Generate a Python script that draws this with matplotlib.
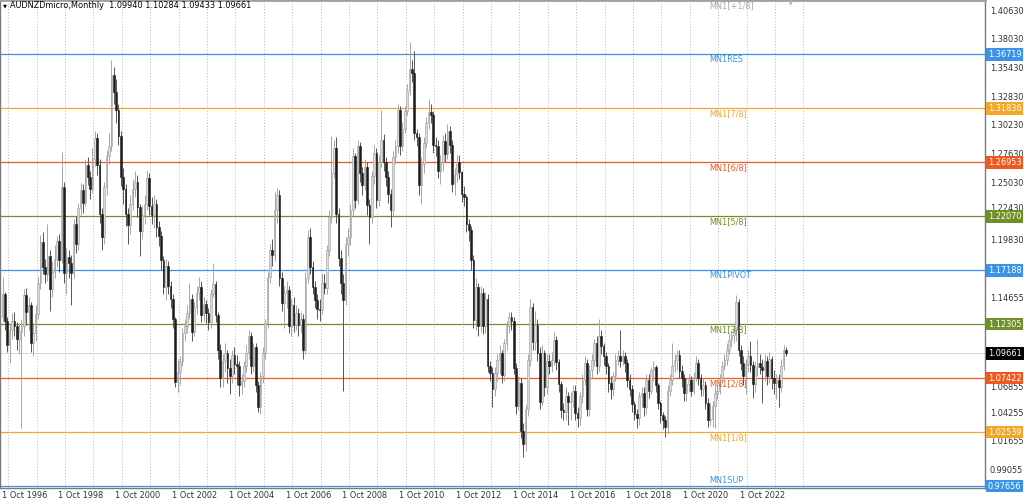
import matplotlib
matplotlib.use("Agg")
import matplotlib.pyplot as plt
from matplotlib.transforms import blended_transform_factory
import numpy as np

# ---------------- data (monthly candles, Oct 1996 .. May 2024) ----------------
opens = [
    1.130, 1.150, 1.126, 1.104, 1.118, 1.126, 1.121, 1.110, 1.116, 1.121, 1.149, 1.134,
    1.140, 1.106, 1.115, 1.132, 1.160, 1.197, 1.175, 1.168, 1.185, 1.155, 1.170, 1.182,
    1.198, 1.181, 1.247, 1.169, 1.184, 1.178, 1.169, 1.214, 1.196, 1.228, 1.244, 1.233,
    1.267, 1.256, 1.245, 1.272, 1.291, 1.267, 1.223, 1.202, 1.247, 1.275, 1.284, 1.348,
    1.333, 1.317, 1.293, 1.256, 1.245, 1.223, 1.213, 1.232, 1.245, 1.252, 1.229, 1.207,
    1.222, 1.232, 1.255, 1.230, 1.222, 1.232, 1.211, 1.203, 1.181, 1.157, 1.176, 1.158,
    1.146, 1.128, 1.071, 1.080, 1.090, 1.115, 1.121, 1.133, 1.146, 1.116, 1.139, 1.151,
    1.157, 1.131, 1.141, 1.133, 1.125, 1.150, 1.159, 1.131, 1.100, 1.074, 1.090, 1.097,
    1.083, 1.076, 1.095, 1.087, 1.085, 1.068, 1.072, 1.085, 1.097, 1.112, 1.085, 1.102,
    1.068, 1.048, 1.076, 1.097, 1.124, 1.166, 1.190, 1.186, 1.226, 1.240, 1.165, 1.142,
    1.151, 1.154, 1.121, 1.140, 1.122, 1.133, 1.122, 1.128, 1.100, 1.165, 1.202, 1.175,
    1.157, 1.145, 1.137, 1.136, 1.160, 1.156, 1.190, 1.220, 1.260, 1.282, 1.223, 1.183,
    1.160, 1.145, 1.196, 1.202, 1.226, 1.275, 1.235, 1.284, 1.260, 1.249, 1.265, 1.231,
    1.220, 1.257, 1.278, 1.235, 1.270, 1.290, 1.270, 1.256, 1.241, 1.226, 1.274, 1.284,
    1.317, 1.284, 1.300, 1.316, 1.335, 1.354, 1.350, 1.296, 1.292, 1.249, 1.268, 1.287,
    1.305, 1.315, 1.312, 1.285, 1.284, 1.262, 1.270, 1.289, 1.277, 1.298, 1.285, 1.250,
    1.259, 1.270, 1.261, 1.241, 1.238, 1.214, 1.208, 1.181, 1.127, 1.157, 1.121, 1.151,
    1.121, 1.146, 1.085, 1.079, 1.064, 1.079, 1.091, 1.097, 1.077, 1.106, 1.121, 1.130,
    1.126, 1.083, 1.049, 1.070, 1.026, 1.015, 1.046, 1.091, 1.139, 1.107, 1.122, 1.097,
    1.053, 1.097, 1.066, 1.090, 1.085, 1.091, 1.109, 1.089, 1.069, 1.045, 1.044, 1.058,
    1.053, 1.054, 1.063, 1.043, 1.038, 1.058, 1.073, 1.088, 1.046, 1.082, 1.091, 1.106,
    1.085, 1.112, 1.103, 1.094, 1.085, 1.070, 1.064, 1.076, 1.091, 1.094, 1.090, 1.094,
    1.088, 1.073, 1.064, 1.051, 1.042, 1.038, 1.058, 1.061, 1.048, 1.073, 1.063, 1.082,
    1.084, 1.068, 1.052, 1.041, 1.036, 1.030, 1.063, 1.073, 1.085, 1.091, 1.095, 1.081,
    1.074, 1.061, 1.069, 1.073, 1.063, 1.075, 1.088, 1.074, 1.064, 1.068, 1.052, 1.036,
    1.037, 1.049, 1.061, 1.063, 1.074, 1.085, 1.091, 1.100, 1.109, 1.113, 1.118, 1.143,
    1.100, 1.088, 1.076, 1.087, 1.094, 1.086, 1.069, 1.084, 1.088, 1.084, 1.082, 1.090,
    1.076, 1.092, 1.074, 1.070, 1.073, 1.066, 1.085, 1.09940,
]
highs = [
    1.166, 1.152, 1.130, 1.122, 1.133, 1.134, 1.125, 1.124, 1.128, 1.155, 1.156, 1.148,
    1.143, 1.124, 1.140, 1.166, 1.204, 1.206, 1.182, 1.214, 1.190, 1.180, 1.195, 1.203,
    1.205, 1.279, 1.252, 1.192, 1.190, 1.186, 1.218, 1.221, 1.233, 1.251, 1.250, 1.272,
    1.274, 1.262, 1.282, 1.298, 1.296, 1.272, 1.228, 1.252, 1.281, 1.296, 1.362, 1.356,
    1.345, 1.322, 1.298, 1.264, 1.250, 1.228, 1.240, 1.254, 1.262, 1.258, 1.232, 1.230,
    1.240, 1.262, 1.260, 1.238, 1.240, 1.236, 1.216, 1.207, 1.185, 1.182, 1.180, 1.162,
    1.150, 1.130, 1.092, 1.094, 1.120, 1.128, 1.140, 1.160, 1.150, 1.143, 1.158, 1.166,
    1.162, 1.148, 1.145, 1.138, 1.155, 1.178, 1.162, 1.134, 1.105, 1.096, 1.106, 1.100,
    1.092, 1.100, 1.102, 1.095, 1.090, 1.078, 1.090, 1.104, 1.118, 1.116, 1.106, 1.106,
    1.072, 1.080, 1.102, 1.128, 1.170, 1.196, 1.200, 1.243, 1.246, 1.244, 1.170, 1.158,
    1.162, 1.158, 1.146, 1.148, 1.140, 1.138, 1.134, 1.132, 1.170, 1.208, 1.210, 1.180,
    1.162, 1.150, 1.146, 1.169, 1.168, 1.195, 1.226, 1.293, 1.290, 1.292, 1.228, 1.190,
    1.168, 1.202, 1.210, 1.232, 1.282, 1.278, 1.290, 1.288, 1.265, 1.272, 1.270, 1.236,
    1.262, 1.285, 1.282, 1.276, 1.317, 1.295, 1.274, 1.262, 1.245, 1.280, 1.290, 1.322,
    1.320, 1.306, 1.320, 1.340, 1.378, 1.362, 1.370, 1.300, 1.296, 1.274, 1.292, 1.310,
    1.327, 1.322, 1.316, 1.292, 1.290, 1.276, 1.294, 1.296, 1.304, 1.302, 1.290, 1.264,
    1.276, 1.276, 1.262, 1.248, 1.240, 1.218, 1.212, 1.186, 1.165, 1.160, 1.158, 1.156,
    1.152, 1.150, 1.090, 1.084, 1.084, 1.096, 1.104, 1.100, 1.110, 1.126, 1.134, 1.134,
    1.130, 1.088, 1.076, 1.074, 1.034, 1.050, 1.096, 1.146, 1.142, 1.135, 1.128, 1.102,
    1.104, 1.100, 1.096, 1.096, 1.098, 1.116, 1.112, 1.092, 1.072, 1.052, 1.066, 1.062,
    1.062, 1.068, 1.068, 1.048, 1.062, 1.078, 1.094, 1.092, 1.086, 1.096, 1.110, 1.112,
    1.128, 1.118, 1.106, 1.098, 1.088, 1.076, 1.080, 1.096, 1.100, 1.118, 1.100, 1.098,
    1.092, 1.078, 1.068, 1.054, 1.046, 1.062, 1.066, 1.066, 1.078, 1.078, 1.084, 1.090,
    1.086, 1.070, 1.054, 1.044, 1.040, 1.068, 1.078, 1.106, 1.096, 1.100, 1.100, 1.086,
    1.078, 1.074, 1.078, 1.076, 1.080, 1.094, 1.092, 1.078, 1.074, 1.072, 1.056, 1.052,
    1.054, 1.066, 1.068, 1.078, 1.090, 1.096, 1.106, 1.114, 1.118, 1.124, 1.149, 1.146,
    1.104, 1.094, 1.092, 1.100, 1.108, 1.090, 1.090, 1.110, 1.096, 1.092, 1.096, 1.094,
    1.098, 1.094, 1.082, 1.078, 1.078, 1.092, 1.104, 1.10284,
]
lows = [
    1.125, 1.118, 1.098, 1.088, 1.110, 1.112, 1.100, 1.096, 1.029, 1.112, 1.122, 1.118,
    1.098, 1.094, 1.108, 1.128, 1.155, 1.168, 1.160, 1.162, 1.135, 1.148, 1.165, 1.175,
    1.170, 1.178, 1.160, 1.150, 1.165, 1.140, 1.165, 1.187, 1.190, 1.222, 1.224, 1.230,
    1.249, 1.236, 1.242, 1.266, 1.258, 1.215, 1.190, 1.196, 1.240, 1.268, 1.280, 1.322,
    1.305, 1.285, 1.248, 1.232, 1.212, 1.196, 1.205, 1.226, 1.238, 1.220, 1.185, 1.200,
    1.214, 1.226, 1.222, 1.214, 1.210, 1.202, 1.194, 1.172, 1.150, 1.145, 1.150, 1.138,
    1.120, 1.066, 1.062, 1.068, 1.085, 1.108, 1.115, 1.128, 1.108, 1.112, 1.132, 1.145,
    1.125, 1.126, 1.124, 1.118, 1.120, 1.148, 1.125, 1.092, 1.066, 1.066, 1.080, 1.070,
    1.060, 1.070, 1.078, 1.068, 1.058, 1.060, 1.066, 1.080, 1.092, 1.078, 1.080, 1.062,
    1.044, 1.042, 1.070, 1.092, 1.120, 1.160, 1.176, 1.180, 1.215, 1.158, 1.135, 1.120,
    1.138, 1.115, 1.112, 1.116, 1.118, 1.112, 1.115, 1.092, 1.096, 1.160, 1.168, 1.150,
    1.138, 1.128, 1.126, 1.132, 1.150, 1.150, 1.185, 1.215, 1.255, 1.215, 1.176, 1.150,
    1.063, 1.140, 1.185, 1.195, 1.220, 1.228, 1.232, 1.252, 1.240, 1.244, 1.222, 1.196,
    1.215, 1.250, 1.228, 1.230, 1.265, 1.262, 1.248, 1.233, 1.211, 1.220, 1.268, 1.278,
    1.276, 1.280, 1.296, 1.312, 1.330, 1.342, 1.290, 1.284, 1.240, 1.232, 1.260, 1.282,
    1.300, 1.305, 1.278, 1.275, 1.255, 1.250, 1.262, 1.270, 1.272, 1.278, 1.243, 1.240,
    1.252, 1.254, 1.234, 1.230, 1.206, 1.198, 1.172, 1.120, 1.118, 1.112, 1.116, 1.114,
    1.115, 1.080, 1.072, 1.048, 1.058, 1.072, 1.078, 1.070, 1.072, 1.100, 1.115, 1.118,
    1.078, 1.042, 1.045, 1.020, 1.003, 1.008, 1.040, 1.085, 1.100, 1.100, 1.090, 1.046,
    1.050, 1.058, 1.060, 1.078, 1.080, 1.086, 1.082, 1.062, 1.038, 1.036, 1.036, 1.032,
    1.036, 1.048, 1.036, 1.030, 1.032, 1.052, 1.068, 1.040, 1.040, 1.074, 1.085, 1.078,
    1.080, 1.096, 1.086, 1.078, 1.062, 1.055, 1.058, 1.072, 1.086, 1.084, 1.086, 1.080,
    1.066, 1.058, 1.044, 1.036, 1.029, 1.032, 1.048, 1.040, 1.042, 1.056, 1.060, 1.072,
    1.062, 1.046, 1.034, 1.028, 1.021, 1.024, 1.058, 1.068, 1.080, 1.082, 1.074, 1.066,
    1.054, 1.054, 1.062, 1.058, 1.060, 1.072, 1.068, 1.058, 1.058, 1.046, 1.030, 1.032,
    1.030, 1.029, 1.055, 1.060, 1.070, 1.082, 1.086, 1.096, 1.102, 1.106, 1.108, 1.094,
    1.082, 1.068, 1.060, 1.080, 1.080, 1.056, 1.062, 1.076, 1.078, 1.052, 1.072, 1.068,
    1.070, 1.064, 1.060, 1.055, 1.048, 1.062, 1.082, 1.09433,
]
closes = [
    1.150, 1.126, 1.104, 1.118, 1.126, 1.121, 1.110, 1.116, 1.121, 1.149, 1.134, 1.140,
    1.106, 1.115, 1.132, 1.160, 1.197, 1.175, 1.168, 1.185, 1.155, 1.170, 1.182, 1.198,
    1.181, 1.247, 1.169, 1.184, 1.178, 1.169, 1.214, 1.196, 1.228, 1.244, 1.233, 1.267,
    1.256, 1.245, 1.272, 1.291, 1.267, 1.223, 1.202, 1.247, 1.275, 1.284, 1.348, 1.333,
    1.317, 1.293, 1.256, 1.245, 1.223, 1.213, 1.232, 1.245, 1.252, 1.229, 1.207, 1.222,
    1.232, 1.255, 1.230, 1.222, 1.232, 1.211, 1.203, 1.181, 1.157, 1.176, 1.158, 1.146,
    1.128, 1.071, 1.080, 1.090, 1.115, 1.121, 1.133, 1.146, 1.116, 1.139, 1.151, 1.157,
    1.131, 1.141, 1.133, 1.125, 1.150, 1.159, 1.131, 1.100, 1.074, 1.090, 1.097, 1.083,
    1.076, 1.095, 1.087, 1.085, 1.068, 1.072, 1.085, 1.097, 1.112, 1.085, 1.102, 1.068,
    1.048, 1.076, 1.097, 1.124, 1.166, 1.190, 1.186, 1.226, 1.240, 1.165, 1.142, 1.151,
    1.154, 1.121, 1.140, 1.122, 1.133, 1.122, 1.128, 1.100, 1.165, 1.202, 1.175, 1.157,
    1.145, 1.137, 1.136, 1.160, 1.156, 1.190, 1.220, 1.260, 1.282, 1.223, 1.183, 1.160,
    1.145, 1.196, 1.202, 1.226, 1.275, 1.235, 1.284, 1.260, 1.249, 1.265, 1.231, 1.220,
    1.257, 1.278, 1.235, 1.270, 1.290, 1.270, 1.256, 1.241, 1.226, 1.274, 1.284, 1.317,
    1.284, 1.300, 1.316, 1.335, 1.354, 1.350, 1.296, 1.292, 1.249, 1.268, 1.287, 1.305,
    1.315, 1.312, 1.285, 1.284, 1.262, 1.270, 1.289, 1.277, 1.298, 1.285, 1.250, 1.259,
    1.270, 1.261, 1.241, 1.238, 1.214, 1.208, 1.181, 1.127, 1.157, 1.121, 1.151, 1.121,
    1.146, 1.085, 1.079, 1.064, 1.079, 1.091, 1.097, 1.077, 1.106, 1.121, 1.130, 1.126,
    1.083, 1.049, 1.070, 1.026, 1.015, 1.046, 1.091, 1.139, 1.107, 1.122, 1.097, 1.053,
    1.097, 1.066, 1.090, 1.085, 1.091, 1.109, 1.089, 1.069, 1.045, 1.044, 1.058, 1.053,
    1.054, 1.063, 1.043, 1.038, 1.058, 1.073, 1.088, 1.046, 1.082, 1.091, 1.106, 1.085,
    1.112, 1.103, 1.094, 1.085, 1.070, 1.064, 1.076, 1.091, 1.094, 1.090, 1.094, 1.088,
    1.073, 1.064, 1.051, 1.042, 1.038, 1.058, 1.061, 1.048, 1.073, 1.063, 1.082, 1.084,
    1.068, 1.052, 1.041, 1.036, 1.030, 1.063, 1.073, 1.085, 1.091, 1.095, 1.081, 1.074,
    1.061, 1.069, 1.073, 1.063, 1.075, 1.088, 1.074, 1.064, 1.068, 1.052, 1.036, 1.037,
    1.049, 1.061, 1.063, 1.074, 1.085, 1.091, 1.100, 1.109, 1.113, 1.118, 1.143, 1.100,
    1.088, 1.076, 1.087, 1.094, 1.086, 1.069, 1.084, 1.088, 1.084, 1.082, 1.090, 1.076,
    1.092, 1.074, 1.070, 1.073, 1.066, 1.085, 1.09940, 1.09661,
]

date_labels = ["1 Oct 1996", "1 Oct 1998", "1 Oct 2000", "1 Oct 2002", "1 Oct 2004",
               "1 Oct 2006", "1 Oct 2008", "1 Oct 2010", "1 Oct 2012", "1 Oct 2014",
               "1 Oct 2016", "1 Oct 2018", "1 Oct 2020", "1 Oct 2022"]
date_label_bar = [0, 24, 48, 72, 96, 120, 144, 168, 192, 216, 240, 264, 288, 312]

level_names = ["MN1[+1/8]", "MN1RES", "MN1[7/8]", "MN1[6/8]", "MN1[5/8]", "MN1PIVOT",
               "MN1[3/8]", "MN1[2/8]", "MN1[1/8]", "MN1SUP"]
level_values = [1.41602, 1.36719, 1.31836, 1.26953, 1.22070, 1.17188,
                1.12305, 1.07422, 1.02539, 0.97656]
level_colors = ["#a8a8a8", "#3a93e6", "#f2a62a", "#ec5a22", "#6f8f2a", "#3a93e6",
                "#6f8f2a", "#ec5a22", "#f2a62a", "#3a93e6"]
level_boxed = [False, True, True, True, True, True, True, True, True, True]

# visible price-scale labels (those hidden behind the coloured boxes are left out)
price_ticks = [1.40630, 1.38030, 1.35430, 1.32830, 1.30230, 1.27630, 1.25030, 1.22430,
               1.19830, 1.14655, 1.06855, 1.04255, 1.01655, 0.99055]
title_text = "AUDNZDmicro,Monthly  1.09940 1.10284 1.09433 1.09661"
bid_price = 1.09661

# ---------------- figure ----------------
W, H = 1024, 500
fig = plt.figure(figsize=(W / 100, H / 100), dpi=100, facecolor="white")
plot_right = 985
plot_bottom = 488
ax = fig.add_axes([0, (H - plot_bottom) / H, plot_right / W, plot_bottom / H])
ax.set_facecolor("white")

px_per_bar = 28.4 / 12.0
x0_px = 2.5
ax.set_xlim(-x0_px / px_per_bar, (plot_right - x0_px) / px_per_bar)
px_per_price = 1105.7
ax.set_ylim(1.40630 - (plot_bottom - 11) / px_per_price, 1.40630 + 11 / px_per_price)

ax.set_xticks([])
ax.set_yticks([])
for s in ["left", "right", "bottom"]:
    ax.spines[s].set_color("#7a7a7a")
    ax.spines[s].set_linewidth(1.0)
ax.spines["top"].set_color("#a0a0a0")
ax.spines["top"].set_linewidth(2.0)

o = np.array(opens)
h = np.array(highs)
l = np.array(lows)
c = np.array(closes)
idx = np.arange(len(c))

# vertical dotted grid (yearly)
grid_pos = np.arange(2.45, len(c) + 8, 12.0)
ax.vlines(grid_pos, 0, 1, transform=blended_transform_factory(ax.transData, ax.transAxes),
          colors="#b8b8b8", linestyles=(0, (1, 2)), linewidth=0.7, zorder=1)

# bid line
ax.axhline(bid_price, color="#d6d6d6", linewidth=0.7, zorder=1)

# level lines
for name, val, col in zip(level_names, level_values, level_colors):
    ax.axhline(val, color=col, linewidth=0.9, zorder=2)

# candles
bull = c >= o
wick_lo = np.minimum(l, np.minimum(o, c))
wick_hi = np.maximum(h, np.maximum(o, c))
ax.vlines(idx[bull], wick_lo[bull], wick_hi[bull], colors="#a6a6a6", linewidth=0.7, zorder=3)
ax.vlines(idx[~bull], wick_lo[~bull], wick_hi[~bull], colors="#555555", linewidth=0.7, zorder=3)
body_bot = np.minimum(o, c)
body_h = np.maximum(np.abs(c - o), 0.0009)
ax.bar(idx[bull], body_h[bull], bottom=body_bot[bull], width=0.68,
       color="#dcdcdc", edgecolor="#9a9a9a", linewidth=0.4, zorder=4)
ax.bar(idx[~bull], body_h[~bull], bottom=body_bot[~bull], width=0.68,
       color="#1c1c1c", edgecolor="#1c1c1c", linewidth=0.4, zorder=4)

fs = 5.9
fam = "DejaVu Sans"

# level labels inside chart (the bottom one sits just above its line,
# so that it stays clear of the date labels)
lab_x = 709 / plot_right
tr_ax_y = blended_transform_factory(ax.transAxes, ax.transData)
for name, val, col in zip(level_names, level_values, level_colors):
    if name == "MN1SUP":
        ax.text(lab_x, val + 1.0 / px_per_price, name, transform=tr_ax_y, color=col,
                fontsize=fs, family=fam, ha="left", va="bottom", zorder=5)
    else:
        ax.text(lab_x, val - 1.2 / px_per_price, name, transform=tr_ax_y, color=col,
                fontsize=fs, family=fam, ha="left", va="top", zorder=5, clip_on=False)

# right price scale (labels that touch a coloured box are nudged clear of it)
rx = 990 / plot_right
for p in price_ticks:
    shift = 0.0
    if p == 1.22430:
        shift = 3.5 / px_per_price
    elif p == 1.06855:
        shift = -3.0 / px_per_price
    ax.text(rx, p + shift, f"{p:.5f}", transform=tr_ax_y, color="#303030", fontsize=fs,
            family=fam, ha="left", va="center", clip_on=False)
bx = 988 / plot_right
for name, val, col, boxed in zip(level_names, level_values, level_colors, level_boxed):
    if boxed:
        ax.text(bx, val, f"{val:.5f}", transform=tr_ax_y, color="white", fontsize=fs,
                family=fam, ha="left", va="center", clip_on=False, zorder=6,
                bbox=dict(boxstyle="square,pad=0.22", facecolor=col, edgecolor="none"))
ax.text(bx, bid_price, f"{bid_price:.5f}", transform=tr_ax_y, color="white", fontsize=fs,
        family=fam, ha="left", va="center", clip_on=False, zorder=6,
        bbox=dict(boxstyle="square,pad=0.22", facecolor="black", edgecolor="none"))

# date labels
tr_dx = blended_transform_factory(ax.transData, ax.transAxes)
for lab, b in zip(date_labels, date_label_bar):
    ax.text(b - 0.35, -0.006, lab, transform=tr_dx, color="#303030", fontsize=fs,
            family=fam, ha="left", va="top", clip_on=False)

# title and markers
fig.text(10 / W, 1 - 5.5 / H, title_text, fontsize=fs, family=fam, color="black",
         ha="left", va="center")
fig.text(3 / W, 1 - 5.5 / H, "\u25bc", fontsize=3.8, family=fam, color="black",
         ha="left", va="center")
fig.text(791 / W, 1 - 3 / H, "\u25bc", fontsize=5, family=fam, color="#b8b8b8",
         ha="center", va="center")

fig.savefig("out.png", dpi=100, facecolor="white")
